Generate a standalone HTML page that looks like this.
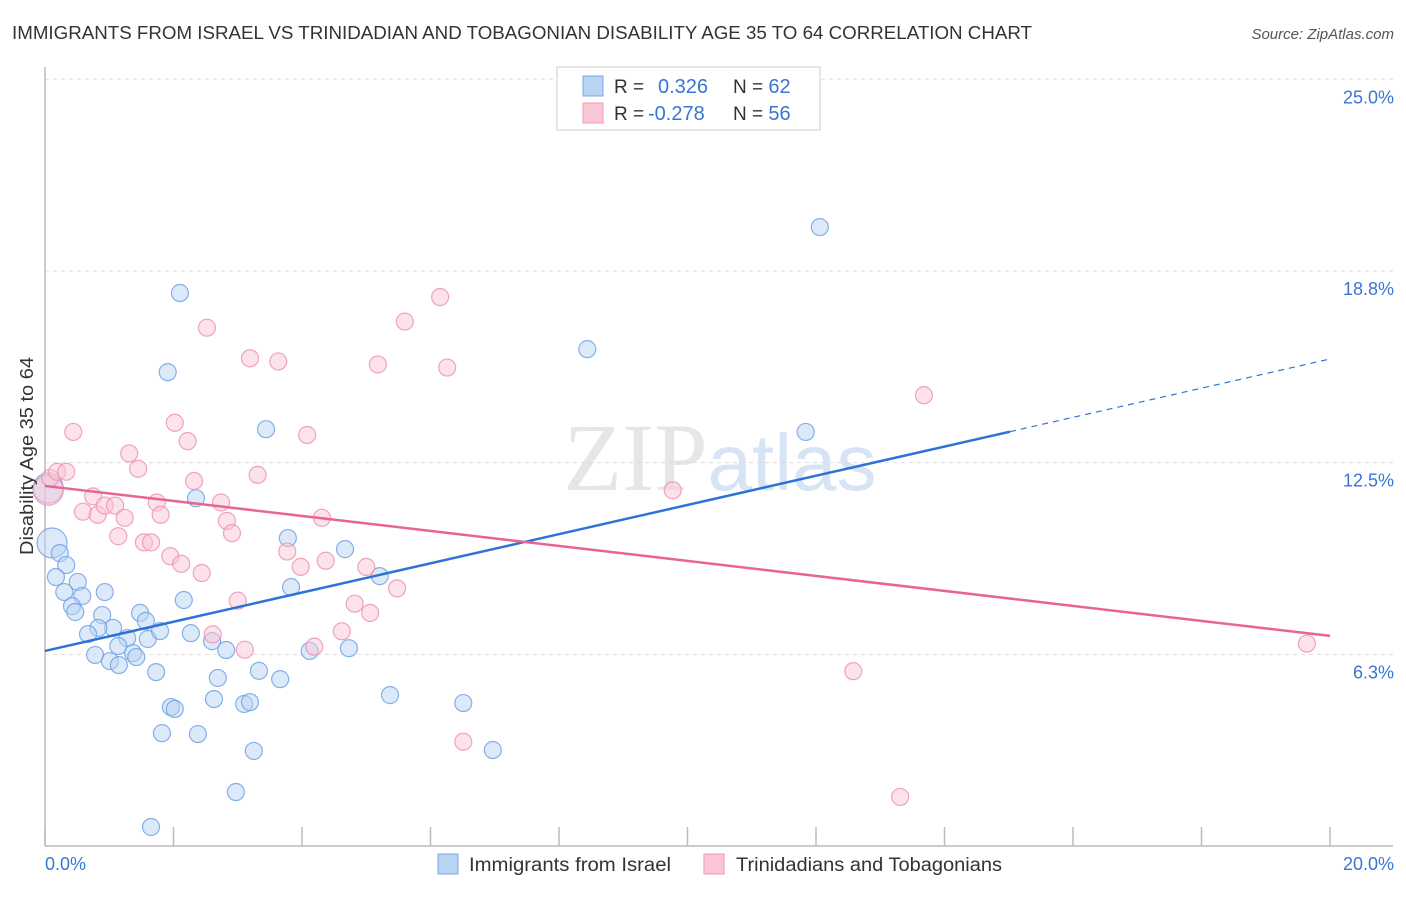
<!DOCTYPE html>
<html><head><meta charset="utf-8"><style>
body{margin:0;background:#fff;font-family:"Liberation Sans",sans-serif;}
</style></head><body>
<svg id="chart" width="1406" height="892" xmlns="http://www.w3.org/2000/svg" style="font-family:'Liberation Sans',sans-serif">
<text x="12" y="39" font-size="18" fill="#333" textLength="1020" lengthAdjust="spacingAndGlyphs">IMMIGRANTS FROM ISRAEL VS TRINIDADIAN AND TOBAGONIAN DISABILITY AGE 35 TO 64 CORRELATION CHART</text>
<text x="1394" y="39" font-size="15" fill="#555" font-style="italic" text-anchor="end">Source: ZipAtlas.com</text>
<text x="720" y="490" font-size="96" fill="#e6e6e6" text-anchor="middle" font-family="Liberation Serif">ZIP<tspan fill="#d6e4f5" font-family="Liberation Sans" font-size="80">atlas</tspan></text>
<g id="grid"></g>
<g id="axes"></g>
<g id="pts"></g>
<g id="lines"></g>
<text transform="translate(33,456) rotate(-90)" font-size="18" fill="#333" text-anchor="middle" textLength="198" lengthAdjust="spacingAndGlyphs">Disability Age 35 to 64</text>
<text x="45" y="870" font-size="18" fill="#3a75d4">0.0%</text>
<text x="1394" y="870" font-size="18" fill="#3a75d4" text-anchor="end">20.0%</text>
<g>
<rect x="557" y="67" width="263" height="63" fill="#fff" stroke="#ccc"/>
<rect x="583" y="76" width="20" height="20" fill="#b9d3f3" stroke="#7aa8e6"/>
<rect x="583" y="103" width="20" height="20" fill="#f9c6d5" stroke="#ee9ab3"/>
<text x="614" y="93" font-size="19" fill="#333">R = </text>
<text x="658" y="93" font-size="20" fill="#3a75d4">0.326</text>
<text x="733" y="93" font-size="19" fill="#333">N = <tspan fill="#3a75d4" font-size="20">62</tspan></text>
<text x="614" y="120" font-size="19" fill="#333">R = </text>
<text x="648" y="120" font-size="20" fill="#3a75d4">-0.278</text>
<text x="733" y="120" font-size="19" fill="#333">N = <tspan fill="#3a75d4" font-size="20">56</tspan></text>
</g>
<g>
<rect x="438" y="854" width="20" height="20" fill="#b9d3f3" stroke="#7aa8e6"/>
<text x="469" y="871" font-size="19" fill="#333" textLength="202" lengthAdjust="spacingAndGlyphs">Immigrants from Israel</text>
<rect x="704" y="854" width="20" height="20" fill="#f9c6d5" stroke="#ee9ab3"/>
<text x="736" y="871" font-size="19" fill="#333" textLength="266" lengthAdjust="spacingAndGlyphs">Trinidadians and Tobagonians</text>
</g>
</svg>
<script>
const yTicks=[6.25,12.5,18.75,25];
const yTickLabels=["6.3%","12.5%","18.8%","25.0%"];
const xTicks=[0,2,4,6,8,10,12,14,16,18,20];
const blueX=[12.06,2.10,8.44,1.91,11.84,3.44,2.35,0.05,0.11,0.23,0.33,0.17,0.51,0.93,0.30,0.58,0.42,0.47,0.89,1.48,1.57,2.16,1.06,0.83,0.67,1.28,1.14,1.60,1.79,1.37,1.42,0.78,1.01,1.15,1.73,2.27,2.60,2.82,3.78,4.67,3.83,5.21,4.12,4.73,3.33,3.66,2.69,2.63,1.96,2.02,3.10,3.19,5.37,6.51,1.82,2.38,3.25,6.97,2.97,1.65];
const blueY=[20.18,18.03,16.20,15.45,13.50,13.59,11.34,11.67,9.88,9.55,9.16,8.77,8.61,8.28,8.28,8.15,7.82,7.63,7.53,7.60,7.34,8.02,7.11,7.11,6.91,6.78,6.52,6.75,7.01,6.29,6.16,6.23,6.03,5.90,5.67,6.94,6.68,6.39,10.04,9.68,8.44,8.80,6.36,6.45,5.71,5.44,5.48,4.79,4.53,4.47,4.63,4.69,4.92,4.66,3.68,3.65,3.10,3.13,1.76,0.62];
const blueBig=[7,8];
const pinkX=[0.05,0.08,0.19,0.33,0.44,1.31,1.45,2.02,2.22,2.52,3.19,3.63,4.08,5.60,6.15,5.18,6.26,13.68,9.77,2.32,3.31,0.75,0.59,0.82,0.93,1.09,1.24,1.74,1.80,2.74,2.83,2.91,1.14,1.54,1.65,1.95,2.12,2.44,3.77,3.98,4.31,4.37,5.0,5.48,4.82,5.06,3.0,2.61,3.11,4.19,4.62,12.58,6.51,13.31,19.64];
const pinkY=[11.6,12.0,12.2,12.2,13.5,12.8,12.3,13.8,13.2,16.9,15.9,15.8,13.4,17.1,17.9,15.7,15.6,14.7,11.6,11.9,12.1,11.4,10.9,10.8,11.1,11.1,10.7,11.2,10.8,11.2,10.6,10.2,10.1,9.9,9.9,9.45,9.2,8.9,9.6,9.1,10.7,9.3,9.1,8.4,7.9,7.6,8.0,6.9,6.4,6.5,7.0,5.7,3.4,1.6,6.6];
const pinkBig=[0];
const blueTrend=[6.36,15.88], blueSolidEnd=15.02;
const pinkTrend=[11.74,6.85];
const NS="http://www.w3.org/2000/svg";
const X=v=>45+v/20*1285, Y=v=>846-v*30.67;
function mk(tag,attrs,parent){const e=document.createElementNS(NS,tag);for(const k in attrs)e.setAttribute(k,attrs[k]);parent.appendChild(e);return e;}
const grid=document.getElementById('grid'),axes=document.getElementById('axes'),pts=document.getElementById('pts'),lines=document.getElementById('lines');
yTicks.forEach((t,i)=>{
 const l=mk('line',{x1:45,x2:1393,y1:Y(t),y2:Y(t),stroke:'#ddd','stroke-dasharray':'4,4'},grid);
 
 
 const tx=mk('text',{x:1394,y:Y(t)+24,'font-size':18,fill:'#3a75d4','text-anchor':'end'},grid);
 tx.textContent=yTickLabels[i];
 
 
});
const la=mk('line',{x1:45,x2:45,y1:67,y2:846,stroke:'#bbb','stroke-width':1.5},axes);


const lb=mk('line',{x1:45,x2:1393,y1:846,y2:846,stroke:'#bbb','stroke-width':1.5},axes);


xTicks.forEach(t=>{
 const l=mk('line',{x1:X(t),x2:X(t),y1:827,y2:846,stroke:'#bbb','stroke-width':1.5},axes);
 
 
});
function dots(xs,ys,big,fill,stroke,name){
 xs.forEach((x,i)=>{
  const r=big.includes(i)?15:8.5;
  const c=mk('circle',{cx:X(x),cy:Y(ys[i]),r:r,fill:fill,'fill-opacity':0.5,stroke:stroke,'stroke-opacity':0.8,'stroke-width':1.2},pts);
  
  
 });
}
dots(blueX,blueY,blueBig,'#b9d3f3','#6a9ee6','israel-point');
dots(pinkX,pinkY,pinkBig,'#f9c6d5','#ee8fab','trinidad-point');
const by=x=>blueTrend[0]+(blueTrend[1]-blueTrend[0])*x/20;
const b1=mk('line',{x1:X(0),y1:Y(by(0)),x2:X(blueSolidEnd),y2:Y(by(blueSolidEnd)),stroke:'#2f72d6','stroke-width':2.5},lines);


const b2=mk('line',{x1:X(blueSolidEnd),y1:Y(by(blueSolidEnd)),x2:X(20),y2:Y(by(20)),stroke:'#2f72d6','stroke-width':1.2,'stroke-dasharray':'6,5'},lines);


const p1=mk('line',{x1:X(0),y1:Y(pinkTrend[0]),x2:X(20),y2:Y(pinkTrend[1]),stroke:'#e8658f','stroke-width':2.5},lines);


</script>
</body></html>
